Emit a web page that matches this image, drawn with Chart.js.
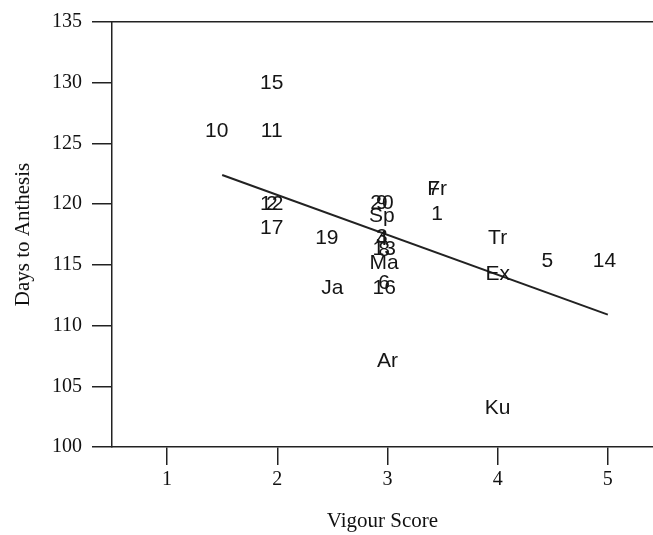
<!DOCTYPE html>
<html>
<head>
<meta charset="utf-8">
<script src="https://cdn.jsdelivr.net/npm/chart.js@4/dist/chart.umd.min.js"></script>
<style>
  body { margin: 0; background: #fff; }
</style>
</head>
<body>
<canvas id="chart" width="653" height="535"></canvas>
<script>
// point labels, vigour score (x) and days to anthesis (y)
const pointLabels = ['15', '10', '11', '12', '2', '17', '19', 'Ja',
                     '20', '9', 'Sp', '3', '4', '13', '8', 'Ma', '6', '16', 'Ar',
                     '7', 'Fr', '1', 'Tr', 'Ex', 'Ku', '5', '14'];
const vigour = [1.95, 1.45, 1.95, 1.95, 1.95, 1.95, 2.45, 2.5,
                2.95, 2.95, 2.95, 2.95, 2.95, 2.97, 2.97, 2.97, 2.97, 2.97, 3.0,
                3.42, 3.45, 3.45, 4.0, 4.0, 4.0, 4.45, 4.97];
const days = [130, 126, 126, 120, 120, 118, 117.2, 113.1,
              120.1, 120.1, 119, 117.3, 117.1, 116.3, 116.2, 115.1, 113.5, 113.1, 107.1,
              121.2, 121.2, 119.2, 117.2, 114.2, 103.2, 115.3, 115.3];

// fitted regression line
const fitX = [1.5, 5];
const fitY = [122.4, 110.9];

const xTicks = [1, 2, 3, 4, 5];
const yTicks = [100, 105, 110, 115, 120, 125, 130, 135];

const ink = '#222';
const serif = "'Liberation Serif', 'Times New Roman', serif";

const textPoints = {
    id: 'textPoints',
    afterDatasetsDraw(chart) {
        const ctx = chart.ctx;
        const meta = chart.getDatasetMeta(0);
        ctx.save();
        ctx.fillStyle = '#151515';
        ctx.font = "21px 'Liberation Sans', Arial, sans-serif";
        ctx.textAlign = 'center';
        ctx.textBaseline = 'middle';
        meta.data.forEach((el, i) => {
            ctx.fillText(pointLabels[i], el.x, el.y);
        });
        ctx.restore();
    }
};

new Chart(document.getElementById('chart'), {
    type: 'scatter',
    data: {
        datasets: [
            {
                data: vigour.map((v, i) => ({ x: v, y: days[i] })),
                pointRadius: 0,
                pointHoverRadius: 0
            },
            {
                data: fitX.map((v, i) => ({ x: v, y: fitY[i] })),
                showLine: true,
                borderColor: ink,
                borderWidth: 2,
                pointRadius: 0
            }
        ]
    },
    options: {
        responsive: false,
        animation: false,
        events: [],
        layout: { padding: { top: 20, right: 0, left: 0, bottom: 0 } },
        plugins: {
            legend: { display: false },
            tooltip: { enabled: false }
        },
        scales: {
            x: {
                type: 'linear',
                min: 0.5,
                max: 5.41,
                afterBuildTicks: s => { s.ticks = xTicks.map(v => ({ value: v })); },
                afterFit: s => { s.height = 88; },
                grid: { drawOnChartArea: false, tickLength: 18, color: ink, lineWidth: 1.5 },
                border: { color: ink, width: 1.5 },
                ticks: { color: '#111', padding: 3, font: { family: serif, size: 20 } },
                title: {
                    display: true,
                    text: 'Vigour Score',
                    color: '#111',
                    padding: { top: 0, bottom: 1 },
                    font: { family: serif, size: 21 }
                }
            },
            x2: {
                type: 'linear',
                position: 'top',
                min: 0.5,
                max: 5.41,
                afterFit: s => { s.height = 0; },
                grid: { display: false, drawTicks: false },
                border: { color: ink, width: 1.5 },
                ticks: { display: false }
            },
            y: {
                type: 'linear',
                min: 100,
                max: 135,
                afterBuildTicks: s => { s.ticks = yTicks.map(v => ({ value: v })); },
                afterFit: s => { s.width = 112; },
                grid: { drawOnChartArea: false, tickLength: 20, color: ink, lineWidth: 1.5 },
                border: { color: ink, width: 1.5 },
                ticks: { color: '#111', padding: 10, font: { family: serif, size: 20 } },
                title: {
                    display: true,
                    text: 'Days to Anthesis',
                    color: '#111',
                    padding: { top: 11, bottom: 0 },
                    font: { family: serif, size: 21 }
                }
            }
        }
    },
    plugins: [textPoints]
});
</script>
</body>
</html>
